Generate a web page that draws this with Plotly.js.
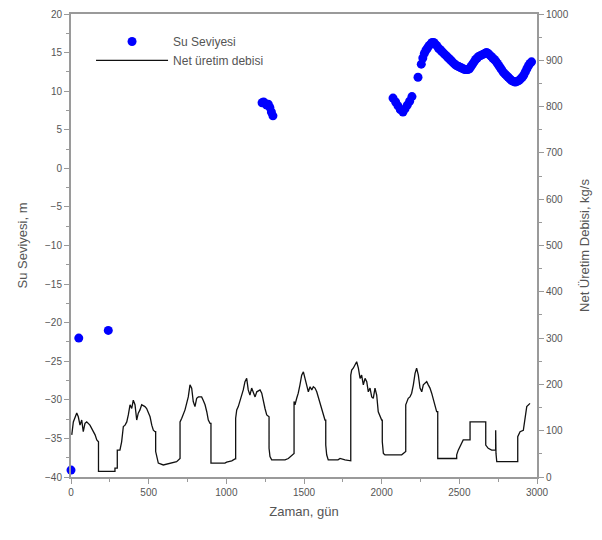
<!DOCTYPE html>
<html>
<head>
<meta charset="utf-8">
<script src="https://cdn.plot.ly/plotly-3.0.1.min.js"></script>
<style>html,body{margin:0;padding:0;background:#fff}#chart{width:602px;height:540px}</style>
</head>
<body>
<div id="chart"></div>
<script>
// Su Seviyesi (m) - left axis
var levelDays = [0, 50, 240,
  1230, 1240, 1250, 1260, 1270, 1280, 1290, 1300,
  2073, 2090, 2105, 2120, 2137, 2150, 2165, 2180, 2195,
  2234, 2255, 2265, 2275, 2285, 2295, 2305, 2315, 2325, 2335, 2345, 2355, 2365, 2375, 2385, 2395,
  2405, 2415, 2425, 2435, 2445, 2455, 2465, 2475, 2485, 2495, 2505, 2515, 2525, 2535, 2545, 2555,
  2565, 2575, 2585, 2595, 2605, 2615, 2625, 2635, 2645, 2655, 2665, 2675, 2685, 2695, 2705, 2715,
  2725, 2735, 2745, 2755, 2765, 2775, 2785, 2795, 2805, 2815, 2825, 2835, 2845, 2855, 2865, 2875,
  2885, 2895, 2905, 2915, 2925, 2935, 2945, 2955, 2965];
var levelValues = [-39.1, -22, -21,
  8.5, 8.6, 8.4, 8.2, 8.3, 7.9, 7.3, 6.8,
  9.1, 8.6, 8.1, 7.6, 7.3, 7.7, 8.2, 8.7, 9.3,
  11.8, 13.5, 14.3, 14.9, 15.3, 15.6, 15.9, 16.1, 16.3, 16.3, 16.1, 15.9, 15.6, 15.4, 15.2, 15.0,
  14.8, 14.6, 14.4, 14.2, 14.0, 13.8, 13.6, 13.4, 13.3, 13.2, 13.1, 13.0, 12.9, 12.8, 12.8, 12.8,
  12.9, 13.2, 13.5, 13.8, 14.1, 14.3, 14.5, 14.6, 14.7, 14.8, 14.9, 15.0, 14.9, 14.7, 14.5, 14.3,
  14.1, 13.9, 13.6, 13.3, 13.0, 12.7, 12.4, 12.2, 12.0, 11.8, 11.6, 11.4, 11.3, 11.2, 11.2, 11.3,
  11.4, 11.6, 11.8, 12.1, 12.5, 12.9, 13.3, 13.6, 13.8];

// Net üretim debisi (kg/s) - right axis
var flowDays = [5, 15, 37, 47, 58, 69, 79, 90, 101, 122, 144, 155, 166, 176, 177, 177, 283, 283, 298, 298, 315,
  326, 337, 348, 359, 369, 380, 391, 401, 412, 423, 433, 444, 455, 476, 487, 509, 520, 530, 541, 545, 545,
  562, 594, 648, 680, 702, 702, 713, 723, 734, 755, 766, 777, 787, 798, 809, 820, 841, 851, 863, 874, 884, 895,
  901, 901, 991, 1002, 1035, 1056, 1060, 1060, 1067, 1077, 1088, 1099, 1109, 1120, 1131, 1141, 1152, 1163,
  1174, 1185, 1196, 1217, 1228, 1238, 1249, 1260, 1270, 1275, 1275, 1281, 1292, 1378, 1399, 1431, 1436, 1436,
  1442, 1453, 1463, 1474, 1485, 1496, 1506, 1517, 1528, 1539, 1550, 1560, 1571, 1582, 1592, 1603, 1614, 1624,
  1635, 1640, 1640, 1646, 1656, 1719, 1732, 1764, 1796, 1801, 1801, 1807, 1817, 1828, 1839, 1850, 1861, 1871,
  1882, 1893, 1904, 1914, 1925, 1936, 1946, 1957, 1968, 1978, 1989, 2000, 2004, 2004, 2011, 2021, 2129, 2139,
  2150, 2155, 2155, 2161, 2171, 2182, 2193, 2204, 2215, 2225, 2236, 2247, 2258, 2268, 2279, 2290, 2300, 2311,
  2322, 2332, 2343, 2354, 2361, 2361, 2483, 2483, 2493, 2515, 2525, 2569, 2569, 2670, 2670, 2686, 2708, 2734,
  2734, 2736, 2741, 2876, 2876, 2891, 2912, 2923, 2934, 2955];
var flowValues = [91, 119, 138, 130, 112, 123, 98, 116, 119, 112, 98, 91, 80, 76, 76, 12, 12, 19, 19, 58, 58,
  76, 109, 112, 119, 134, 156, 148, 166, 156, 123, 138, 145, 156, 152, 148, 130, 112, 101, 98, 98, 55,
  30, 26, 30, 33, 40, 119, 127, 134, 145, 173, 199, 192, 163, 152, 170, 173, 173, 166, 156, 141, 123, 116,
  116, 30, 30, 32, 35, 39, 39, 127, 145, 152, 163, 173, 188, 206, 213, 188, 177, 192,
  181, 173, 184, 188, 181, 163, 148, 134, 130, 130, 62, 44, 37, 37, 40, 51, 51, 163,
  156, 170, 181, 199, 220, 227, 215, 199, 184, 195, 188, 195, 192, 184, 173, 159, 148, 134,
  123, 123, 69, 48, 37, 37, 40, 37, 35, 35, 220, 231, 235, 242, 249, 235, 213, 220,
  199, 213, 206, 184, 192, 173, 170, 192, 177, 141, 130, 123, 123, 76, 51, 48, 48, 51,
  55, 55, 156, 163, 170, 173, 181, 199, 224, 235, 220, 192, 184, 199, 202, 206, 199, 192,
  181, 170, 156, 141, 141, 40, 40, 48, 58, 73, 80, 80, 119, 119, 69, 62, 58, 58,
  101, 51, 33, 33, 87, 98, 101, 130, 152, 159];

var names = ['Su Seviyesi', 'Net üretim debisi'];
var axisTitles = ['Zaman, gün', 'Su Seviyesi, m', 'Net Üretim Debisi, kg/s'];

var txt = '#555';
var axc = '#9a9a9a';
var fontFam = 'Liberation Sans, Arial, sans-serif';

var traces = [
  {x: levelDays, y: levelValues, name: names[0], type: 'scatter', mode: 'markers',
   marker: {color: '#0000ff', size: 9}, cliponaxis: false, yaxis: 'y'},
  {x: flowDays, y: flowValues, name: names[1], type: 'scatter', mode: 'lines',
   line: {color: '#111', width: 1.3}, yaxis: 'y2'}
];

var common = {
  showgrid: false, zeroline: false, showline: true, linecolor: axc, linewidth: 2,
  ticks: 'outside', ticklen: 5, tickcolor: axc, tickwidth: 1,
  tickfont: {size: 10, color: txt, family: fontFam}
};

var layout = {
  width: 602, height: 540,
  margin: {l: 71, r: 65, t: 14, b: 63},
  paper_bgcolor: '#fff', plot_bgcolor: '#fff',
  font: {family: fontFam, color: txt},
  showlegend: true,
  legend: {x: 0.043, y: 0.972, xanchor: 'left', yanchor: 'top', bgcolor: 'rgba(0,0,0,0)',
           font: {size: 12, color: txt}, itemwidth: 72, tracegroupgap: 0},
  xaxis: Object.assign({}, common, {
    range: [0, 3000], dtick: 500, mirror: true,
    minor: {dtick: 250, ticklen: 3, tickcolor: axc, ticks: 'outside'},
    title: {text: axisTitles[0], font: {size: 13, color: txt}, standoff: 10}
  }),
  yaxis: Object.assign({}, common, {
    range: [-40, 20], dtick: 5,
    minor: {dtick: 2.5, ticklen: 3, tickcolor: axc, ticks: 'outside'},
    title: {text: axisTitles[1], font: {size: 13, color: txt}, standoff: 14}
  }),
  yaxis2: Object.assign({}, common, {
    range: [0, 1000], dtick: 100, overlaying: 'y', side: 'right',
    minor: {dtick: 50, ticklen: 3, tickcolor: axc, ticks: 'outside'},
    title: {text: axisTitles[2], font: {size: 13, color: txt}, standoff: 12}
  })
};

Plotly.newPlot('chart', traces, layout, {displayModeBar: false, staticPlot: true});
</script>
</body>
</html>
